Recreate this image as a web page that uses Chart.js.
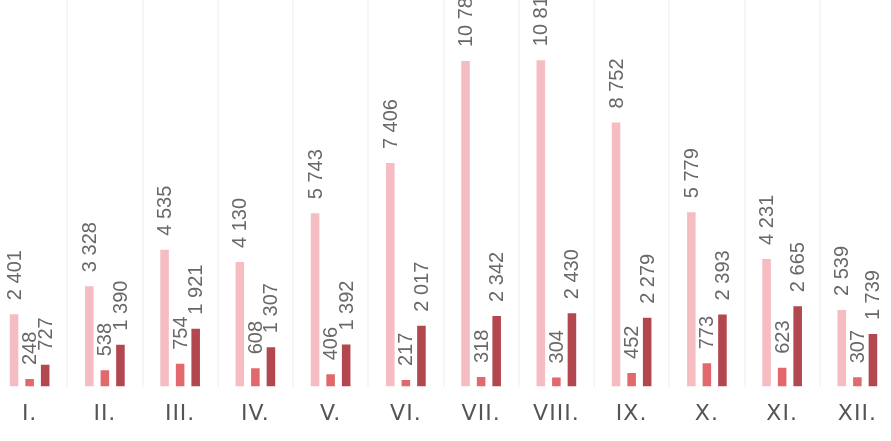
<!DOCTYPE html>
<html>
<head>
<meta charset="utf-8">
<script src="https://cdn.jsdelivr.net/npm/chart.js@4.4.1/dist/chart.umd.min.js"></script>
<style>
  html, body { margin: 0; padding: 0; background: #fff; overflow: hidden; }
  #wrap { position: absolute; left: -8px; top: 0; width: 903px; height: 441px; }
</style>
</head>
<body>
<div id="wrap"><canvas id="chart"></canvas></div>
<script>
/* ── Data ─────────────────────────────────────── */
const months = ['I.', 'II.', 'III.', 'IV.', 'V.', 'VI.', 'VII.', 'VIII.', 'IX.', 'X.', 'XI.', 'XII.'];
const seriesA = [2401, 3328, 4535, 4130, 5743, 7406, 10785, 10815, 8752, 5779, 4231, 2539];
const seriesB = [248, 538, 754, 608, 406, 217, 318, 304, 452, 773, 623, 307];
const seriesC = [727, 1390, 1921, 1307, 1392, 2017, 2342, 2430, 2279, 2393, 2665, 1739];

function fmt(v) { return String(v).replace(/\B(?=(\d{3})+(?!\d))/g, ' '); }

// Rotated value labels above each bar
const valueLabels = {
  id: 'valueLabels',
  beforeDraw(chart) { chart.ctx.letterSpacing = '1px'; },
  beforeDatasetsDraw(chart) { chart.ctx.letterSpacing = '0px'; },
  afterDatasetsDraw(chart) {
    const ctx = chart.ctx;
    ctx.save();
    ctx.font = '20px "Liberation Sans"';
    ctx.fillStyle = '#686868';
    ctx.textAlign = 'left';
    ctx.textBaseline = 'middle';
    chart.data.datasets.forEach((ds, i) => {
      chart.getDatasetMeta(i).data.forEach((bar, j) => {
        ctx.save();
        ctx.translate(bar.x + 1, bar.y - 14);
        ctx.rotate(-Math.PI / 2);
        ctx.fillText(fmt(ds.data[j]), 0, 0);
        ctx.restore();
      });
    });
    ctx.restore();
  }
};

new Chart(document.getElementById('chart'), {
  type: 'bar',
  data: {
    labels: months,
    datasets: [
      { data: seriesA, backgroundColor: '#f5bcc1' },
      { data: seriesB, backgroundColor: '#e2686d' },
      { data: seriesC, backgroundColor: '#b3474f' }
    ]
  },
  options: {
    responsive: true,
    maintainAspectRatio: false,
    animation: false,
    barPercentage: 0.55,
    categoryPercentage: 0.62,
    layout: { padding: 0 },
    plugins: { legend: { display: false }, tooltip: { enabled: false } },
    scales: {
      x: {
        grid: { color: '#f6f6f6', lineWidth: 2, drawTicks: false },
        border: { display: false },
        ticks: { color: '#555', padding: 14, font: { family: 'DejaVu Sans', size: 22 } }
      },
      y: { display: false, min: 0, max: 12810 }
    }
  },
  plugins: [valueLabels]
});
</script>
</body>
</html>
